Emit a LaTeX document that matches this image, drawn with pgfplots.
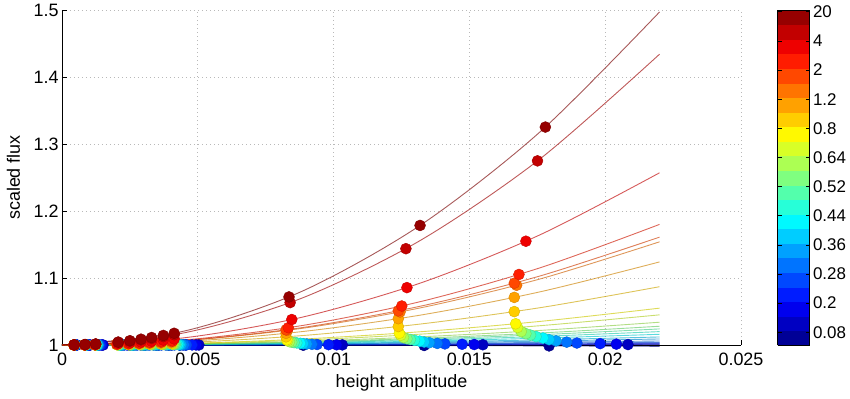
\documentclass[border=0pt]{standalone}
\usepackage{pgfplots}
\pgfplotsset{compat=1.18}
\usepackage{pgfplotstable}
\usepackage{fontspec}
\setmainfont{Liberation Sans}
\definecolor{c1}{rgb}{0,0,0.587}
\definecolor{c2}{rgb}{0,0,0.761}
\definecolor{c3}{rgb}{0,0,0.935}
\definecolor{c4}{rgb}{0,0.109,1}
\definecolor{c5}{rgb}{0,0.283,1}
\definecolor{c6}{rgb}{0,0.457,1}
\definecolor{c7}{rgb}{0,0.630,1}
\definecolor{c8}{rgb}{0,0.804,1}
\definecolor{c9}{rgb}{0,0.978,1}
\definecolor{c10}{rgb}{0.152,1,0.848}
\definecolor{c11}{rgb}{0.326,1,0.674}
\definecolor{c12}{rgb}{0.5,1,0.5}
\definecolor{c13}{rgb}{0.674,1,0.326}
\definecolor{c14}{rgb}{0.848,1,0.152}
\definecolor{c15}{rgb}{1,0.978,0}
\definecolor{c16}{rgb}{1,0.804,0}
\definecolor{c17}{rgb}{1,0.630,0}
\definecolor{c18}{rgb}{1,0.457,0}
\definecolor{c19}{rgb}{1,0.283,0}
\definecolor{c20}{rgb}{1,0.109,0}
\definecolor{c21}{rgb}{0.935,0,0}
\definecolor{c22}{rgb}{0.761,0,0}
\definecolor{c23}{rgb}{0.587,0,0}

\pgfplotstableread{
x y1 y2 y3 y4 y5 y6 y7 y8 y9 y10 y11 y12 y13 y14 y15 y16 y17 y18 y19 y20 y21 y22 y23
0 1 1 1 1 1 1 1 1 1 1 1 1 1 1 1 1 1 1 1 1 1 1 1
0.0044 0.99992 1.00003 1.00006 1.0001 1.00016 1.00024 1.00036 1.00048 1.00064 1.0008 1.00096 1.00112 1.00136 1.0018 1.0022 1.00348 1.00496 1.00616 1.00644 1.0072 1.01028 1.01736 1.01988
0.0088 0.99968 1.00011 1.00024 1.0004 1.00064 1.00096 1.00144 1.00192 1.00256 1.0032 1.00384 1.00448 1.00544 1.0072 1.0088 1.01392 1.01984 1.02464 1.02576 1.0288 1.04112 1.06944 1.07952
0.0132 0.99928 1.00025 1.00054 1.0009 1.00144 1.00216 1.00324 1.00432 1.00576 1.0072 1.00864 1.01008 1.01224 1.0162 1.0198 1.03132 1.04464 1.05544 1.05796 1.0648 1.09252 1.15624 1.17892
0.0176 0.99872 1.00045 1.00096 1.0016 1.00256 1.00384 1.00576 1.00768 1.01024 1.0128 1.01536 1.01792 1.02176 1.0288 1.0352 1.05568 1.07936 1.09856 1.10304 1.1152 1.16448 1.27776 1.31808
0.022 0.998 1.0007 1.0015 1.0025 1.004 1.006 1.009 1.012 1.016 1.02 1.024 1.028 1.034 1.045 1.055 1.087 1.124 1.154 1.161 1.18 1.257 1.434 1.497
}\curvetab

\pgfplotstableread{
x y k
0.000473 1.00000 1
0.000893 1.00000 1
0.001302 0.99999 1
0.002174 0.99998 1
0.002625 0.99997 1
0.003056 0.99996 1
0.003465 0.99995 1
0.003917 0.99994 1
0.004337 0.99992 1
0.008883 0.99967 1
0.013335 0.99927 1
0.017934 0.99867 1
0.000549 1 2
0.001037 1 2
0.001513 1 2
0.002525 1.00001 2
0.00305 1.00001 2
0.00355 1.00002 2
0.004026 1.00002 2
0.004551 1.00003 2
0.005039 1.00004 2
0.010321 1.00015 2
0.015494 1.00035 2
0.020838 1.00063 2
0.000538 1 3
0.001016 1 3
0.001482 1.00001 3
0.002474 1.00002 3
0.002988 1.00003 3
0.003477 1.00004 3
0.003944 1.00005 3
0.004457 1.00006 3
0.004935 1.00008 3
0.01011 1.00032 3
0.015177 1.00071 3
0.020411 1.00129 3
0.000522 1 4
0.000986 1 4
0.001438 1.00001 4
0.002401 1.00003 4
0.0029 1.00004 4
0.003376 1.00006 4
0.003828 1.00008 4
0.004327 1.0001 4
0.004791 1.00012 4
0.009814 1.0005 4
0.014732 1.00112 4
0.019813 1.00203 4
0.0005 1 5
0.000944 1.00001 5
0.001376 1.00002 5
0.002298 1.00004 5
0.002775 1.00006 5
0.00323 1.00009 5
0.003663 1.00011 5
0.00414 1.00014 5
0.004584 1.00017 5
0.009391 1.00073 5
0.014097 1.00164 5
0.018959 1.00297 5
0.00049 1 6
0.000925 1.00001 6
0.001349 1.00002 6
0.002252 1.00006 6
0.00272 1.00009 6
0.003166 1.00012 6
0.00359 1.00016 6
0.004058 1.0002 6
0.004493 1.00025 6
0.009204 1.00105 6
0.013818 1.00237 6
0.018583 1.00429 6
0.000479 1 7
0.000905 1.00002 7
0.001321 1.00003 7
0.002205 1.00009 7
0.002663 1.00013 7
0.003099 1.00018 7
0.003515 1.00023 7
0.003972 1.00029 7
0.004398 1.00036 7
0.00901 1.00151 7
0.013526 1.0034 7
0.01819 1.00616 7
0.000473 1.00001 8
0.000893 1.00002 8
0.001302 1.00004 8
0.002174 1.00012 8
0.002625 1.00017 8
0.003056 1.00023 8
0.003465 1.0003 8
0.003917 1.00038 8
0.004337 1.00047 8
0.008883 1.00195 8
0.013335 1.0044 8
0.017934 1.00796 8
0.000467 1.00001 9
0.000881 1.00003 9
0.001286 1.00005 9
0.002147 1.00015 9
0.002593 1.00022 9
0.003018 1.0003 9
0.003422 1.00039 9
0.003868 1.0005 9
0.004283 1.00061 9
0.008773 1.00255 9
0.01317 1.00574 9
0.017712 1.01039 9
0.00046 1.00001 10
0.000869 1.00003 10
0.001267 1.00007 10
0.002116 1.00018 10
0.002555 1.00027 10
0.002974 1.00036 10
0.003373 1.00047 10
0.003812 1.0006 10
0.004221 1.00074 10
0.008646 1.00309 10
0.012979 1.00695 10
0.017456 1.01257 10
0.000455 1.00001 11
0.000859 1.00004 11
0.001252 1.00008 11
0.002091 1.00022 11
0.002525 1.00032 11
0.002939 1.00043 11
0.003333 1.00055 11
0.003767 1.0007 11
0.004171 1.00086 11
0.008545 1.00362 11
0.012827 1.00816 11
0.017251 1.01476 11
0.00045 1.00001 12
0.00085 1.00004 12
0.00124 1.00009 12
0.00207 1.00025 12
0.0025 1.00036 12
0.00291 1.00049 12
0.0033 1.00063 12
0.00373 1.00081 12
0.00413 1.00099 12
0.00846 1.00414 12
0.0127 1.00934 12
0.01708 1.01689 12
0.000446 1.00001 13
0.000842 1.00005 13
0.001228 1.00011 13
0.002049 1.0003 13
0.002475 1.00043 13
0.002881 1.00058 13
0.003267 1.00075 13
0.003693 1.00096 13
0.004089 1.00117 13
0.008375 1.00492 13
0.012573 1.0111 13
0.016909 1.02007 13
0.000442 1.00002 14
0.000835 1.00006 14
0.001218 1.00014 14
0.002033 1.00038 14
0.002455 1.00056 14
0.002858 1.00076 14
0.003241 1.00098 14
0.003663 1.00125 14
0.004056 1.00153 14
0.008308 1.00642 14
0.012471 1.01447 14
0.016773 1.02617 14
0.00044 1.00002 15
0.000831 1.00008 15
0.001213 1.00017 15
0.002024 1.00047 15
0.002445 1.00068 15
0.002846 1.00092 15
0.003227 1.00118 15
0.003648 1.00151 15
0.004039 1.00185 15
0.008274 1.00778 15
0.012421 1.01753 15
0.016704 1.03171 15
0.000439 1.00004 16
0.000829 1.00012 16
0.001209 1.00026 16
0.002018 1.00073 16
0.002438 1.00107 16
0.002837 1.00145 16
0.003218 1.00186 16
0.003637 1.00238 16
0.004027 1.00292 16
0.008249 1.01223 16
0.012383 1.02756 16
0.016653 1.04986 16
0.000439 1.00005 17
0.000829 1.00018 17
0.001209 1.00038 17
0.002018 1.00104 17
0.002438 1.00152 17
0.002837 1.00206 17
0.003218 1.00265 17
0.003637 1.00339 17
0.004027 1.00416 17
0.008249 1.01744 17
0.012383 1.03929 17
0.016653 1.07107 17
0.000441 1.00006 18
0.000833 1.00022 18
0.001215 1.00047 18
0.002029 1.00131 18
0.00245 1.00191 18
0.002852 1.00259 18
0.003234 1.00333 18
0.003655 1.00425 18
0.004047 1.00521 18
0.008291 1.02187 18
0.012446 1.04929 18
0.016738 1.08915 18
0.000439 1.00006 19
0.000829 1.00023 19
0.001209 1.00049 19
0.002018 1.00136 19
0.002438 1.00198 19
0.002837 1.00268 19
0.003218 1.00344 19
0.003637 1.0044 19
0.004027 1.00539 19
0.008249 1.02263 19
0.012383 1.051 19
0.016653 1.09224 19
0.000443 1.00007 20
0.000837 1.00026 20
0.001221 1.00056 20
0.002039 1.00155 20
0.002463 1.00226 20
0.002866 1.00306 20
0.003251 1.00393 20
0.003674 1.00502 20
0.004068 1.00615 20
0.008333 1.02582 20
0.01251 1.05819 20
0.016824 1.10526 20
0.00045 1.00011 21
0.00085 1.00038 21
0.00124 1.00082 21
0.00207 1.00228 21
0.0025 1.00332 21
0.00291 1.0045 21
0.0033 1.00578 21
0.00373 1.00739 21
0.00413 1.00906 21
0.00846 1.03801 21
0.0127 1.08565 21
0.01708 1.15491 21
0.00045 1.00018 22
0.00085 1.00065 22
0.00124 1.00138 22
0.00207 1.00384 22
0.0025 1.0056 22
0.00291 1.00759 22
0.0033 1.00977 22
0.00373 1.01248 22
0.00413 1.0153 22
0.0084 1.06328 22
0.012662 1.14376 22
0.017507 1.27484 22
0.00045 1.00021 23
0.00085 1.00074 23
0.00124 1.00158 23
0.00207 1.0044 23
0.0025 1.00642 23
0.00291 1.0087 23
0.0033 1.01118 23
0.00373 1.01429 23
0.00413 1.01752 23
0.008358 1.07174 23
0.013183 1.17845 23
0.017797 1.32528 23
}\dottab

\begin{document}
\begin{tikzpicture}
\useasboundingbox (-62bp,-54bp) rectangle (788bp,345bp);
\begin{axis}[
  at={(0,0)}, anchor=south west,
  scale only axis, width=679bp, height=335bp,
  xmin=0, xmax=0.025, ymin=1, ymax=1.5,
  axis x line*=bottom, axis y line*=left,
  axis line style={black, line width=0.8bp},
  tick align=inside, major tick length=5bp,
  tick style={black, line width=0.6bp},
  xtick={0,0.005,0.01,0.015,0.02,0.025},
  xticklabels={0,0.005,0.01,0.015,0.02,0.025},
  ytick={1,1.1,1.2,1.3,1.4,1.5},
  yticklabels={1,1.1,1.2,1.3,1.4,1.5},
  scaled x ticks=false,
  grid=major,
  major grid style={gray!55, line width=0.7bp, dash pattern=on 0.7bp off 3.3bp},
  tick label style={font=\fontsize{18}{21}\selectfont},
  xticklabel style={yshift=-4bp},
  label style={font=\fontsize{18}{21}\selectfont},
  xlabel={height amplitude},
  ylabel={scaled flux},
  x label style={at={(axis description cs:0.5,-0.1254)}, anchor=base},
  y label style={at={(axis description cs:-0.0619,0.5)}, anchor=base},
  clip=false,
  colormap/jet,
  point meta min=0.5, point meta max=23.5,
  colorbar sampled,
  colorbar style={
    at={(parent axis.north east)}, anchor=north west, xshift=28bp,
    scale only axis, width=32bp, height=335bp,
    samples=24,
    ytick={1.38,3.38,5.38,7.38,9.38,11.38,13.38,15.38,17.38,19.38,21.38,23.38},
    yticklabels={0.08,0.2,0.28,0.36,0.44,0.52,0.64,0.8,1.2,2,4,20},
    yticklabel style={font=\fontsize{17}{20}\selectfont},
    tick align=inside, major tick length=4bp,
    tick style={black, line width=0.5bp},
    axis line style={black, line width=0.6bp},
  },
]
\pgfplotsinvokeforeach{1,...,23}{
  \addplot[no marks, smooth, line width=0.9bp, draw=c#1!80!black, draw opacity=0.65] table[x=x, y=y#1]{\curvetab};
}
\addplot[scatter, only marks, mark=*, mark size=5.5bp, scatter src=explicit,
  scatter/use mapped color={draw=mapped color!85!black, fill=mapped color},
  every mark/.append style={line width=0.4bp}]
  table[x=x, y=y, meta=k]{\dottab};
\end{axis}
\end{tikzpicture}
\end{document}
